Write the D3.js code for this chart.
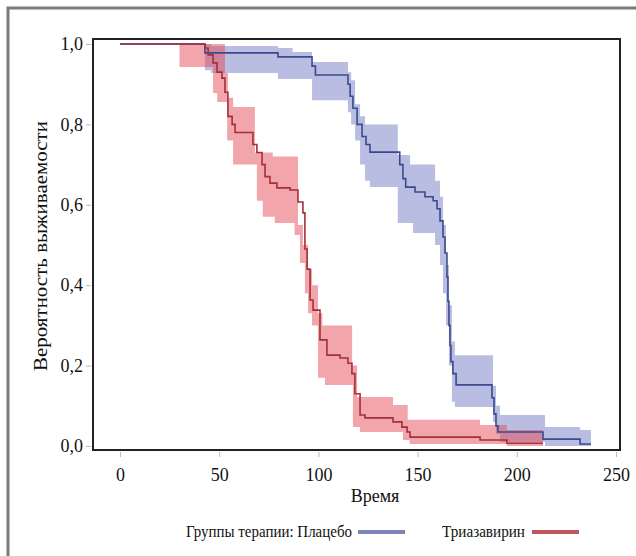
<!DOCTYPE html>
<html>
<head>
<meta charset="utf-8">
<script src="https://cdn.jsdelivr.net/npm/d3@7"></script>
<style>
    body { margin: 0; background: #fff; }
    svg text { font-family: "Liberation Serif", "Times New Roman", serif; fill: #111; }
</style>
</head>
<body>
<div class="container"></div>
<script>
// placebo Kaplan-Meier curve
var placeboTime = [0, 42.8, 79.6, 96.8, 98.5, 114.9, 116, 117.4, 119.5, 122, 124, 126, 141, 142.6, 144, 148.7, 153.7, 157.8, 159.8, 161.3, 162.8, 163.8, 164.8, 165.3, 165.8, 166.3, 166.8, 167.8, 169.4, 187.5, 188.5, 189.5, 190.5, 213.2, 231.9, 237.4];
var placeboSurv = [1, 0.978, 0.968, 0.945, 0.923, 0.9, 0.87, 0.84, 0.8, 0.77, 0.75, 0.731, 0.7, 0.665, 0.644, 0.632, 0.62, 0.61, 0.59, 0.56, 0.52, 0.48, 0.42, 0.36, 0.3, 0.25, 0.21, 0.18, 0.152, 0.12, 0.08, 0.05, 0.035, 0.017, 0.005, 0.005];
// placebo confidence band
var placeboBandTime = [42.8, 46, 79.6, 87, 96.8, 114.9, 116.5, 118.5, 121, 123.5, 126, 140, 146.2, 147.7, 158.8, 161.3, 162.8, 164.3, 165.8, 167.3, 168.8, 188, 189.5, 191.5, 214.2, 231.9, 237.4];
var placeboBandLow = [0.935, 0.928, 0.913, 0.913, 0.86, 0.83, 0.8, 0.76, 0.7, 0.66, 0.644, 0.555, 0.555, 0.53, 0.5, 0.45, 0.38, 0.3, 0.2, 0.11, 0.097, 0.06, 0.03, 0.01, 0, 0, 0];
var placeboBandHigh = [1, 0.995, 0.99, 0.98, 0.955, 0.93, 0.91, 0.85, 0.82, 0.8, 0.8, 0.724, 0.7, 0.7, 0.66, 0.62, 0.55, 0.45, 0.35, 0.26, 0.226, 0.15, 0.1, 0.077, 0.047, 0.04, 0.04];

// triazavirin Kaplan-Meier curve
var triazTime = [0, 42.8, 44.4, 46.9, 48.9, 51.4, 52.9, 54.4, 56.5, 58, 67, 69, 71.6, 73.1, 75.6, 79.1, 85.7, 89.7, 92.2, 93.2, 94.3, 95.8, 97.3, 100.8, 104.3, 110.9, 114.9, 116.9, 118.4, 121, 123.5, 137.6, 142.1, 144.7, 146.2, 181.5, 195, 213.2];
var triazSurv = [1, 0.99, 0.973, 0.953, 0.93, 0.915, 0.88, 0.82, 0.8, 0.78, 0.75, 0.73, 0.7, 0.67, 0.654, 0.642, 0.637, 0.607, 0.58, 0.49, 0.44, 0.363, 0.338, 0.264, 0.226, 0.219, 0.206, 0.18, 0.13, 0.077, 0.07, 0.06, 0.047, 0.035, 0.022, 0.015, 0.007, 0.007];
// triazavirin confidence band
var triazBandTime = [30, 46.9, 49, 52.9, 54, 54.4, 57, 68, 69, 72, 77, 78, 88, 89.7, 90.7, 92.2, 93.2, 94.8, 96.8, 99.8, 102, 103.3, 117, 117.4, 119.5, 121, 137.6, 142.6, 145, 146, 181.5, 195, 213.2];
var triazBandLow = [0.943, 0.878, 0.856, 0.856, 0.76, 0.76, 0.7, 0.7, 0.61, 0.57, 0.57, 0.555, 0.525, 0.525, 0.455, 0.455, 0.38, 0.33, 0.3, 0.17, 0.17, 0.152, 0.152, 0.047, 0.047, 0.035, 0.035, 0.015, 0.015, 0.005, 0.005, 0, 0];
var triazBandHigh = [1, 1, 1, 0.928, 0.928, 0.866, 0.843, 0.73, 0.73, 0.73, 0.72, 0.72, 0.72, 0.55, 0.55, 0.5, 0.5, 0.44, 0.4, 0.33, 0.3, 0.3, 0.2, 0.2, 0.122, 0.122, 0.102, 0.102, 0.065, 0.065, 0.052, 0.04, 0.04];

var xTicks = [0, 50, 100, 150, 200, 250];
var yTicks = [0, 0.2, 0.4, 0.6, 0.8, 1.0];

var xTitle = 'Время';
var yTitle = 'Вероятность выживаемости';
var legendTitle = 'Группы терапии: Плацебо';
var groupNames = ['Плацебо', 'Триазавирин'];

var WIDTH = 636;
var HEIGHT = 556;
var _xScale = d3.scaleLinear().domain([0, 250]).range([120, 616]);
var _yScale = d3.scaleLinear().domain([0, 1]).range([446, 44]);
var ruLocale = d3.formatLocale({decimal: ',', thousands: ' ', grouping: [3], currency: ['', '']});
var _svg;

var translate = function (x, y) {
    return 'translate(' + x + ',' + y + ')';
};

var zipLine = function (times, values) {
    return times.map(function (t, i) {
        return {t: t, s: values[i]};
    });
};

var zipBand = function (times, low, high) {
    return times.map(function (t, i) {
        return {t: t, lo: low[i], hi: high[i]};
    });
};

var drawBand = function (data, fill) {
    var area = d3.area()
        .x(function (d) { return _xScale(d.t); })
        .y0(function (d) { return _yScale(d.lo); })
        .y1(function (d) { return _yScale(d.hi); })
        .curve(d3.curveStepAfter);
    _svg.append('path')
        .datum(data)
        .attr('d', area)
        .attr('fill', fill)
        .attr('fill-opacity', 0.5);
};

var drawCurve = function (data, stroke) {
    var line = d3.line()
        .x(function (d) { return _xScale(d.t); })
        .y(function (d) { return _yScale(d.s); })
        .curve(d3.curveStepAfter);
    _svg.append('path')
        .datum(data)
        .attr('d', line)
        .attr('fill', 'none')
        .attr('stroke', stroke)
        .attr('stroke-width', 1.6);
};

var drawChart = function () {
    _svg = d3.select('.container')
        .append('svg')
        .attr('width', WIDTH)
        .attr('height', HEIGHT);

    _svg.append('rect')
        .attr('width', WIDTH)
        .attr('height', HEIGHT)
        .attr('fill', '#fff');

    // outer grey frame, cut by the picture edge on right and bottom
    _svg.append('rect')
        .attr('x', 8)
        .attr('y', 8)
        .attr('width', 700)
        .attr('height', 700)
        .attr('fill', 'none')
        .attr('stroke', '#7a7a7a')
        .attr('stroke-width', 3);

    drawBand(zipBand(placeboBandTime, placeboBandLow, placeboBandHigh), '#737bc3');
    drawBand(zipBand(triazBandTime, triazBandLow, triazBandHigh), '#e54b57');
    drawCurve(zipLine(placeboTime, placeboSurv), '#3b4a8e');
    drawCurve(zipLine(triazTime, triazSurv), '#a3303a');

    // plot frame
    _svg.append('rect')
        .attr('x', 93)
        .attr('y', 39)
        .attr('width', 527)
        .attr('height', 411)
        .attr('fill', 'none')
        .attr('stroke', '#222')
        .attr('stroke-width', 2);

    var xAxis = d3.axisBottom(_xScale)
        .tickValues(xTicks)
        .tickSize(5)
        .tickPadding(11)
        .tickFormat(d3.format('d'));
    var yAxis = d3.axisLeft(_yScale)
        .tickValues(yTicks)
        .tickSize(5)
        .tickPadding(3)
        .tickFormat(ruLocale.format('.1f'));

    var gx = _svg.append('g')
        .attr('transform', translate(0, 452))
        .call(xAxis);
    var gy = _svg.append('g')
        .attr('transform', translate(91, 0))
        .call(yAxis);

    [gx, gy].forEach(function (g) {
        g.select('.domain').remove();
        g.selectAll('.tick line').attr('stroke', '#bbb');
        g.selectAll('.tick text')
            .attr('font-size', 18)
            .attr('font-family', '"Liberation Serif", serif')
            .attr('fill', '#111');
    });

    _svg.append('text')
        .attr('x', 375)
        .attr('y', 502)
        .attr('text-anchor', 'middle')
        .attr('font-size', 18)
        .text(xTitle);

    _svg.append('text')
        .attr('transform', translate(47, 246) + ' rotate(-90)')
        .attr('text-anchor', 'middle')
        .attr('font-size', 18)
        .attr('textLength', 250)
        .attr('lengthAdjust', 'spacingAndGlyphs')
        .text(yTitle);

    // legend
    var legend = _svg.append('g');
    legend.append('text')
        .attr('x', 186)
        .attr('y', 537)
        .attr('font-size', 16)
        .attr('textLength', 166)
        .attr('lengthAdjust', 'spacingAndGlyphs')
        .text(legendTitle);
    legend.append('line')
        .attr('x1', 358).attr('x2', 405)
        .attr('y1', 532).attr('y2', 532)
        .attr('stroke', '#7c84be')
        .attr('stroke-width', 4);
    legend.append('text')
        .attr('x', 442)
        .attr('y', 537)
        .attr('font-size', 16)
        .attr('textLength', 83)
        .attr('lengthAdjust', 'spacingAndGlyphs')
        .text(groupNames[1]);
    legend.append('line')
        .attr('x1', 532).attr('x2', 579)
        .attr('y1', 532).attr('y2', 532)
        .attr('stroke', '#c4545c')
        .attr('stroke-width', 4);
};

window.onload = drawChart;
</script>
</body>
</html>
